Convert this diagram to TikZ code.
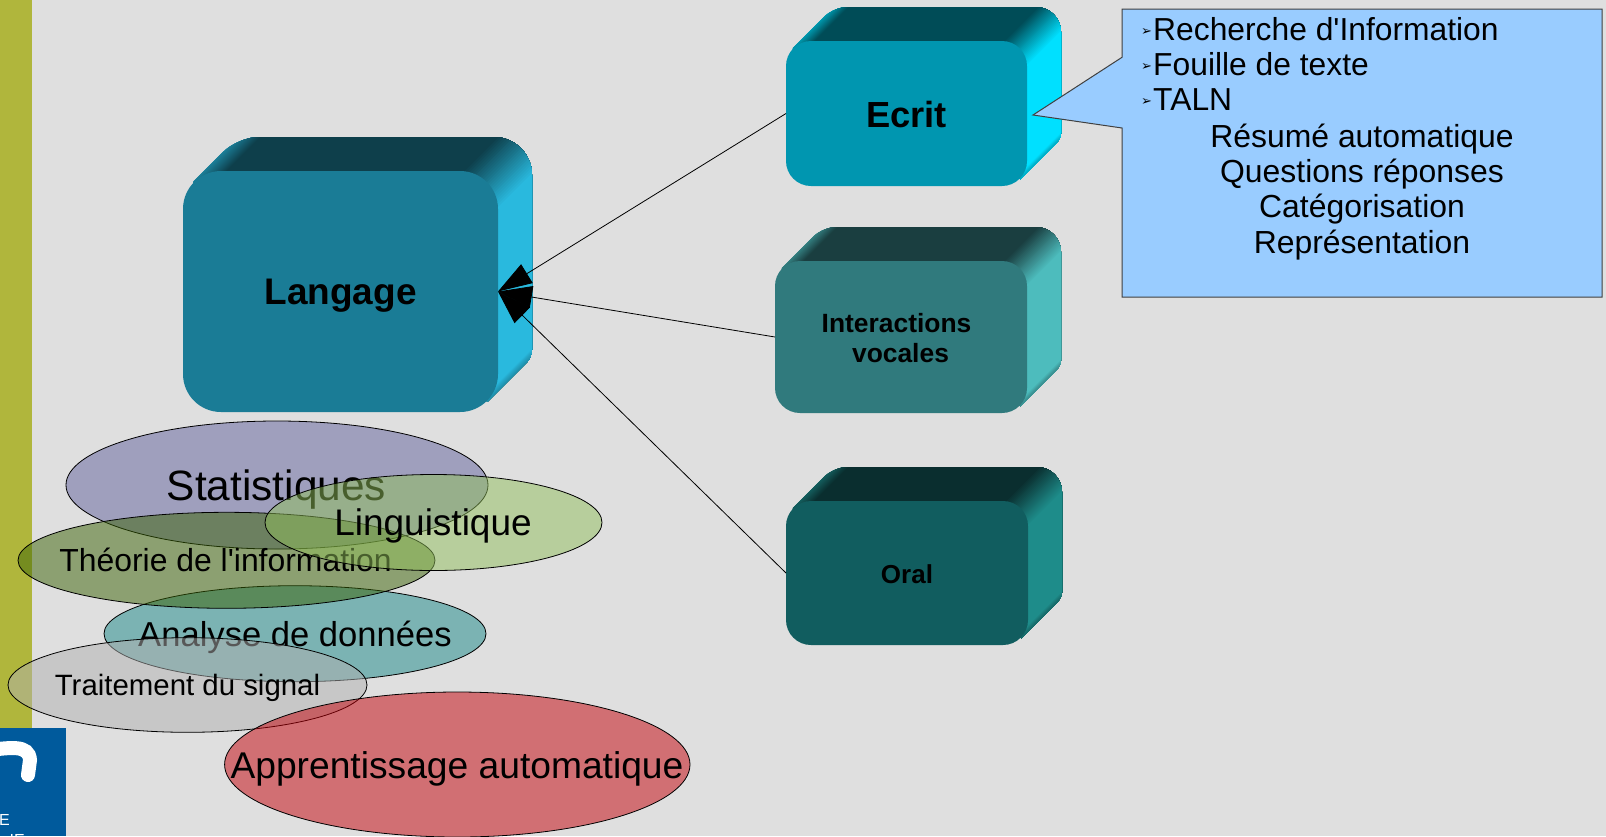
\documentclass[tikz,border=0pt]{standalone}
\usepackage{fontspec}
\setmainfont{Liberation Sans}[Ligatures=TeXOff]
\newfontfamily\dingfont{DejaVu Sans}
\usetikzlibrary{arrows.meta,shapes.geometric}
\definecolor{bgc}{HTML}{DFDFDF}
\definecolor{barc}{HTML}{B0B63C}
\definecolor{logoc}{HTML}{005A9C}
\definecolor{callc}{HTML}{99CCFF}
\definecolor{lgf}{HTML}{1A7C96}\definecolor{lgt}{HTML}{0E3F4B}\definecolor{lgs}{HTML}{29B9DE}
\definecolor{ecf}{HTML}{0096B0}\definecolor{ect}{HTML}{004C57}\definecolor{ecs}{HTML}{00E0FF}
\definecolor{inf}{HTML}{307A7D}\definecolor{int}{HTML}{1A3E40}\definecolor{ins}{HTML}{4DBCBD}
\definecolor{orf}{HTML}{115D5F}\definecolor{ort}{HTML}{0A2E2F}\definecolor{ors}{HTML}{1E8C8A}
\tikzset{
  frontbox/.style={rectangle,inner sep=0pt,outer sep=0pt},
  link/.style={draw=black,line width=0.8pt,{Triangle[length=34pt,width=22pt]}-},
  blob/.style={ellipse,draw=black,line width=0.8pt,fill opacity=0.5,draw opacity=1,inner sep=0pt,outer sep=0pt},
  blobtext/.style={inner sep=0pt,text=black},
  listline/.style={anchor=base west,inner sep=0pt,font=\fontsize{31.8}{36}\selectfont},
  midline/.style={anchor=base,inner sep=0pt,font=\fontsize{31.9}{36}\selectfont},
  tick/.style={anchor=base west,inner sep=0pt,font=\fontsize{13}{13}\dingfont},
  logotext/.style={inner sep=0pt,text=white,font=\fontsize{16}{16}\selectfont}
}
% gradient running along x+y: paint from T0 to T1, colour A to B
\newcommand{\bandpaint}[4]{%
  \foreach \ii in {0,...,24}{%
    \pgfmathsetmacro{\tv}{(#1)+((#2)-(#1))*\ii/24}%
    \pgfmathtruncatemacro{\pp}{100*\ii/24}%
    \fill[#4!\pp!#3] (\tv+1500,-1500) -- (\tv-1500,1500) -- (\tv+1500,4500) -- (\tv+4500,1500) -- cycle;
  }}
% x0,y0,x1,y1 of the front face; outer right, outer top, radius; colours top, side
\newcommand{\blockshape}[9]{%
  \pgfmathsetmacro{\te}{#1+#2+0.55*#7}%
  \pgfmathsetmacro{\tb}{#3+#4-0.55*#7}%
  \pgfmathsetmacro{\tc}{#3+#2}%
  \pgfmathsetmacro{\ta}{\te-#6}%
  \pgfmathsetmacro{\yb}{\tb-#5}%
  \begin{scope}
    \clip (#1+0.275*#7,#2+0.275*#7)
      [rounded corners=0.55*#7] -- (\ta,#6)
      [rounded corners=#7] -- (#5,#6)
      [rounded corners=0.2*#7] -- (#5,\yb)
      [sharp corners] -- (#3-0.275*#7,#4-0.275*#7) -- (#3-#7,#4-#7) -- (#1+0.4*#7,#4-0.4*#7) -- cycle;
    \fill[#9] (0,0) rectangle (1606,836);
    \bandpaint{\te-1}{\te+0.6*#7}{#9!55!#8}{#8}
    \bandpaint{\tc-0.95*#7}{\tc+0.95*#7}{#8}{#9}
    \bandpaint{\tb-0.22*#7}{\tb}{#9}{#9!65!#8}
  \end{scope}}
\begin{document}
\begin{tikzpicture}[x=1pt,y=-1pt]
\useasboundingbox (0,0) rectangle (1606,836);
\fill[bgc] (0,0) rectangle (1606,836);
\fill[barc] (0,0) rectangle (32,728);
\fill[logoc] (0,728) rectangle (66,836);
\draw[white,line width=14pt,line cap=round] (-12,750) .. controls (10,748) and (29,744) .. (30,760) -- (28,775);
\node[logotext,anchor=base east] (logoa) at (10,825) {E};
\node[logotext,anchor=base east] (logob) at (25,845) {IE};

% blocks
\blockshape{183}{171}{498}{412}{532}{137}{38}{lgt}{lgs}
\node[frontbox,fill=lgf,rounded corners=38pt,minimum width=315pt,minimum height=241pt,font=\bfseries\fontsize{37}{40}\selectfont] (langage) at (340.5,291.5) {\raisebox{0pt}[\dimexpr\height+8pt]{Langage}};
\blockshape{786}{41}{1027}{186}{1061}{7}{25}{ect}{ecs}
\node[frontbox,fill=ecf,rounded corners=25pt,minimum width=241pt,minimum height=145pt,font=\bfseries\fontsize{36.3}{40}\selectfont] (ecrit) at (906.5,113.5) {\raisebox{0pt}[\dimexpr\height+2pt]{Ecrit}};
\blockshape{775}{261}{1027}{413}{1061}{227}{25}{int}{ins}
\node[frontbox,fill=inf,rounded corners=25pt,minimum width=252pt,minimum height=152pt,align=center,font=\bfseries\fontsize{26.4}{30}\selectfont] (inter) at (901,337) {\raisebox{0pt}[\dimexpr\height+2pt]{\hspace*{-9pt}Interactions}\\\hspace*{-1pt}vocales};
\blockshape{786}{501}{1028}{645}{1062}{467}{25}{ort}{ors}
\node[frontbox,fill=orf,rounded corners=25pt,minimum width=242pt,minimum height=144pt,font=\bfseries\fontsize{26}{30}\selectfont] (oral) at (907,573) {\raisebox{0pt}[\dimexpr\height+2pt]{Oral}};

% connectors
\draw[link] (langage.east) -- (ecrit.west);
\draw[link] (langage.east) -- (inter.west);
\draw[link] (langage.east) -- (oral.west);

% callout
\draw[draw=black!75,line width=1pt,fill=callc] (1122,9) -- (1602,9) -- (1602,297) -- (1122,297) -- (1122,128) -- (1033,115) -- (1122,57.3) -- cycle;
\node[tick] (ta) at (1141,35) {➢};
\node[tick] (tb) at (1141,70) {➢};
\node[tick] (tc) at (1141,105) {➢};
\node[listline] (l1) at (1153,40.3) {Recherche d'Information};
\node[listline] (l2) at (1153,75.5) {Fouille de texte};
\node[listline] (l3) at (1153,110.5) {TALN};
\node[midline] (l4) at (1362,147) {Résumé automatique};
\node[midline] (l5) at (1362,182) {Questions réponses};
\node[midline] (l6) at (1362,217) {Catégorisation};
\node[midline] (l7) at (1362,253) {Représentation};

% ellipses and texts, back to front
\node[blob,fill={rgb,255:red,97;green,97;blue,157},minimum width=422pt,minimum height=128pt] (stat) at (277,485) {};
\node[blobtext,font=\fontsize{42.4}{46}\selectfont] (statt) at (276.5,490) {Statistiques};
\node[blob,fill={rgb,255:red,25;green,137;blue,137},minimum width=382pt,minimum height=96pt] (anal) at (295,633.7) {};
\node[blobtext,font=\fontsize{34.6}{38}\selectfont] (analt) at (295,637) {Analyse de données};
\node[blob,fill={rgb,255:red,59;green,99;blue,5},minimum width=417pt,minimum height=96pt] (theo) at (226.5,560.3) {};
\node[blobtext,font=\fontsize{31.9}{36}\selectfont] (theot) at (225.6,559.5) {Théorie de l'information};
\node[blob,fill={rgb,255:red,145;green,191;blue,91},minimum width=337pt,minimum height=96pt] (ling) at (433.5,522.5) {};
\node[blobtext,font=\fontsize{37}{40}\selectfont] (lingt) at (433,526) {Linguistique};
\node[blob,fill={rgb,255:red,177;green,177;blue,177},minimum width=359pt,minimum height=94.6pt] (trai) at (187.5,685) {};
\node[blobtext,font=\fontsize{29.4}{33}\selectfont] (trait) at (187.5,688) {Traitement du signal};
\node[blob,fill={rgb,255:red,197;green,0;blue,9},minimum width=465.4pt,minimum height=145pt] (appr) at (457.3,764.5) {};
\node[blobtext,font=\fontsize{37.2}{40}\selectfont] (apprt) at (457,769) {Apprentissage automatique};
\end{tikzpicture}
\end{document}
